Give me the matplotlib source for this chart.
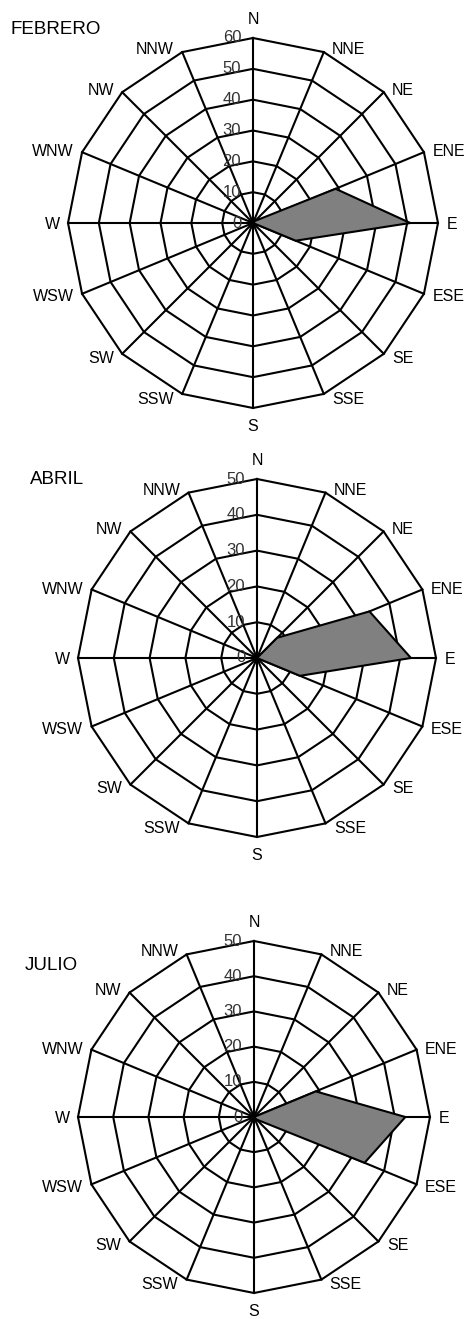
import numpy as np
import matplotlib.pyplot as plt

plt.rcParams['font.family'] = ['Liberation Sans', 'DejaVu Sans']

DIRS = ["N", "NNE", "NE", "ENE", "E", "ESE", "SE", "SSE",
        "S", "SSW", "SW", "WSW", "W", "WNW", "NW", "NNW"]

MONTHS = ["FEBRERO", "ABRIL", "JULIO"]

# frecuencia por dirección (N, NNE, ..., NNW)
febrero = [0, 0, 1, 29, 51, 15, 0, 0, 0, 0, 0, 0, 0, 0, 0, 0]
abril = [0, 0, 8, 34, 43, 13, 0, 0, 0, 0, 0, 0, 0, 0, 0, 0]
julio = [0, 0, 0, 19, 43, 34, 1, 0, 0, 0, 0, 0, 0, 0, 0, 0]

RMAX = [60, 50, 50]

W, H = 469, 1319
# centro (px), radio (px), franja vertical (px)
LAYOUT = [((253, 223), 185, (0, 440)),
          ((257, 658), 179, (440, 880)),
          ((254, 1117), 176, (880, 1319))]
TITLE_POS = [(10, 30), (30, 480), (25, 965)]

fig = plt.figure(figsize=(W / 100, H / 100), dpi=100)

ang = np.deg2rad(np.arange(16) * 22.5)
sx, cy_ = np.sin(ang), np.cos(ang)

for k, (vals, rmax) in enumerate(zip([febrero, abril, julio], RMAX)):
    (cx, cy), rad, (top, bot) = LAYOUT[k]
    s = rad / rmax
    ax = fig.add_axes([0, 1 - bot / H, 1, (bot - top) / H])
    ax.set_xlim(-cx / s, (W - cx) / s)
    ax.set_ylim(-(bot - cy) / s, (cy - top) / s)
    ax.axis('off')

    # anillos poligonales y radios
    for r in range(10, rmax + 1, 10):
        ax.plot(np.append(r * sx, r * sx[0]), np.append(r * cy_, r * cy_[0]),
                color='black', lw=1.5, zorder=1)
    for i in range(16):
        ax.plot([0, rmax * sx[i]], [0, rmax * cy_[i]], color='black', lw=1.5, zorder=1)

    v = np.array(vals, dtype=float)
    ax.fill(v * sx, v * cy_, facecolor='#808080', edgecolor='black', lw=1.5, zorder=2)

    # etiquetas del eje radial
    for r in range(0, rmax + 1, 10):
        ax.annotate(str(r), (0, r), xytext=(-8.5, 0), textcoords='offset points',
                    ha='right', va='center', fontsize=12, color='#333333', zorder=3)

    # etiquetas de dirección
    for i, d in enumerate(DIRS):
        px, py = rmax * sx[i], rmax * cy_[i]
        if abs(sx[i]) < 1e-6:
            ha = 'center'
        elif sx[i] > 0:
            ha = 'left'
        else:
            ha = 'right'
        if abs(sx[i]) < 1e-6:
            va = 'bottom' if cy_[i] > 0 else 'top'
            off = (0, 8 if cy_[i] > 0 else -8)
        else:
            va = 'center'
            off = (6 * np.sign(sx[i]), 3 * cy_[i] - 1)
        ax.annotate(d, (px, py), xytext=off, textcoords='offset points',
                    ha=ha, va=va, fontsize=11.5, color='black')

    tx, ty = TITLE_POS[k]
    fig.text(tx / W, 1 - ty / H, MONTHS[k], ha='left', va='center', fontsize=13.5)

fig.savefig("out.png", dpi=100)
